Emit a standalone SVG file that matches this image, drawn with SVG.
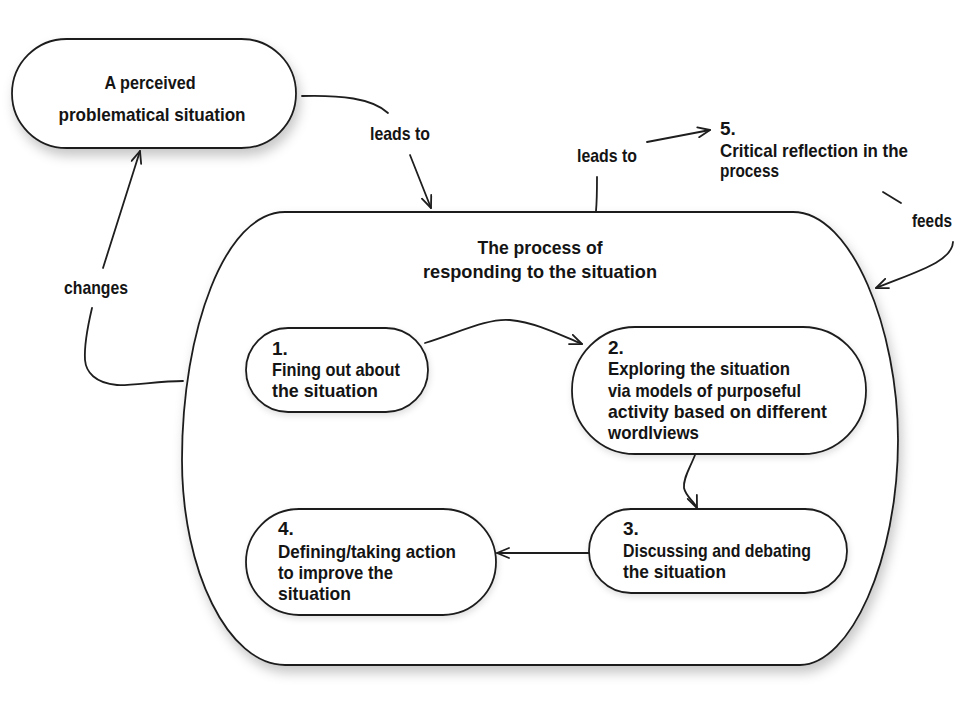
<svg xmlns="http://www.w3.org/2000/svg" width="964" height="704" viewBox="0 0 964 704">
  <defs>
    <filter id="shadow" x="-10%" y="-10%" width="130%" height="135%">
      <feDropShadow dx="3" dy="7" stdDeviation="6" flood-color="#000" flood-opacity="0.22"/>
    </filter>
    <filter id="shadowSmall" x="-10%" y="-10%" width="130%" height="140%">
      <feDropShadow dx="1" dy="3" stdDeviation="3" flood-color="#000" flood-opacity="0.12"/>
    </filter>
    <marker id="arrow" viewBox="0 0 14 12" refX="13" refY="6" markerWidth="14" markerHeight="12" markerUnits="userSpaceOnUse" orient="auto">
      <path d="M1,1 L13,6 L1,11" fill="none" stroke="#1e1e1e" stroke-width="1.8" stroke-linecap="round" stroke-linejoin="round"/>
    </marker>
  </defs>
  <style>
    .shape { fill: #ffffff; stroke: #1e1e1e; stroke-width: 1.8; }
    .conn { fill: none; stroke: #1e1e1e; stroke-width: 1.8; stroke-linecap: round; }
    text { font-family: "Liberation Sans", Arial, sans-serif; font-weight: bold; font-size: 19px; fill: #141414; }
    .mid { text-anchor: middle; }
  </style>

  <rect width="964" height="704" fill="#ffffff"/>

  <!-- situation node -->
  <g id="situation">
    <rect class="shape" x="12" y="39" width="284" height="109" rx="54.5" ry="54.5" filter="url(#shadow)"/>
    <text class="mid" x="150" y="89" textLength="91" lengthAdjust="spacingAndGlyphs">A perceived</text>
    <text class="mid" x="152" y="121" textLength="187" lengthAdjust="spacingAndGlyphs">problematical situation</text>
  </g>

  <!-- container: the process of responding -->
  <g id="process">
    <path class="shape" filter="url(#shadow)" d="M285,212 L793,212 C852,212 898,330 898,440 C898,560 850,665 800,665 L285,665 C228,665 182,570 182,460 C182,330 225,212 285,212 Z"/>
    <text class="mid" x="540" y="254" textLength="125" lengthAdjust="spacingAndGlyphs">The process of</text>
    <text class="mid" x="540" y="278" textLength="234" lengthAdjust="spacingAndGlyphs">responding to the situation</text>
  </g>

  <!-- step 1 -->
  <g id="step1">
    <rect class="shape" x="246" y="328" width="182" height="84" rx="42" ry="42" filter="url(#shadowSmall)"/>
    <text x="272" y="355">1.</text>
    <text x="272" y="376" textLength="128" lengthAdjust="spacingAndGlyphs">Fining out about</text>
    <text x="272" y="397" textLength="106" lengthAdjust="spacingAndGlyphs">the situation</text>
  </g>

  <!-- step 2 -->
  <g id="step2">
    <rect class="shape" x="572" y="327" width="294" height="127" rx="63" ry="63" filter="url(#shadowSmall)"/>
    <text x="608" y="354">2.</text>
    <text x="608" y="375" textLength="182" lengthAdjust="spacingAndGlyphs">Exploring the situation</text>
    <text x="608" y="397" textLength="193" lengthAdjust="spacingAndGlyphs">via models of purposeful</text>
    <text x="608" y="418" textLength="219" lengthAdjust="spacingAndGlyphs">activity based on different</text>
    <text x="608" y="439" textLength="91" lengthAdjust="spacingAndGlyphs">wordlviews</text>
  </g>

  <!-- step 3 -->
  <g id="step3">
    <rect class="shape" x="589" y="509" width="258" height="84" rx="42" ry="42" filter="url(#shadowSmall)"/>
    <text x="623" y="535">3.</text>
    <text x="623" y="557" textLength="188" lengthAdjust="spacingAndGlyphs">Discussing and debating</text>
    <text x="623" y="578" textLength="103" lengthAdjust="spacingAndGlyphs">the situation</text>
  </g>

  <!-- step 4 -->
  <g id="step4">
    <rect class="shape" x="246" y="509" width="250" height="106" rx="53" ry="53" filter="url(#shadowSmall)"/>
    <text x="278" y="535">4.</text>
    <text x="278" y="558" textLength="178" lengthAdjust="spacingAndGlyphs">Defining/taking action</text>
    <text x="278" y="579" textLength="115" lengthAdjust="spacingAndGlyphs">to improve the</text>
    <text x="278" y="600" textLength="73" lengthAdjust="spacingAndGlyphs">situation</text>
  </g>

  <!-- step 5 (free text) -->
  <g id="step5">
    <text x="720" y="135">5.</text>
    <text x="720" y="157" textLength="188" lengthAdjust="spacingAndGlyphs">Critical reflection in the</text>
    <text x="720" y="177" textLength="59" lengthAdjust="spacingAndGlyphs">process</text>
  </g>

  <!-- connectors -->
  <g id="connectors">
    <!-- situation leads to process -->
    <path class="conn" d="M302,96 C340,95 372,98 388,113"/>
    <text x="370" y="140" textLength="60" lengthAdjust="spacingAndGlyphs">leads to</text>
    <path class="conn" marker-end="url(#arrow)" d="M410,155 L431,208"/>

    <!-- process changes situation -->
    <path class="conn" d="M183,381 C160,381 130,386 117,385 C95,383 86,372 85,360 C84,345 88,325 92,308"/>
    <text x="64" y="294" textLength="64" lengthAdjust="spacingAndGlyphs">changes</text>
    <path class="conn" marker-end="url(#arrow)" d="M103,268 L140,151"/>

    <!-- process leads to critical reflection -->
    <path class="conn" d="M596,211 C597,200 597,188 597,177"/>
    <text x="577" y="162" textLength="60" lengthAdjust="spacingAndGlyphs">leads to</text>
    <path class="conn" marker-end="url(#arrow)" d="M647,142 L710,130"/>

    <!-- critical reflection feeds process -->
    <path class="conn" d="M883,192 L901,203"/>
    <text x="912" y="227" textLength="40" lengthAdjust="spacingAndGlyphs">feeds</text>
    <path class="conn" marker-end="url(#arrow)" d="M953,242 C952,262 915,272 876,288"/>

    <!-- step 1 to step 2 -->
    <path class="conn" marker-end="url(#arrow)" d="M425,343 C460,332 488,318 510,320 C538,323 560,335 582,344"/>

    <!-- step 2 to step 3 -->
    <path class="conn" marker-end="url(#arrow)" d="M695,455 C690,468 683,478 684,488 C686,497 694,501 697,508"/>

    <!-- step 3 to step 4 -->
    <path class="conn" marker-end="url(#arrow)" d="M589,553 L497,553"/>
  </g>
</svg>
